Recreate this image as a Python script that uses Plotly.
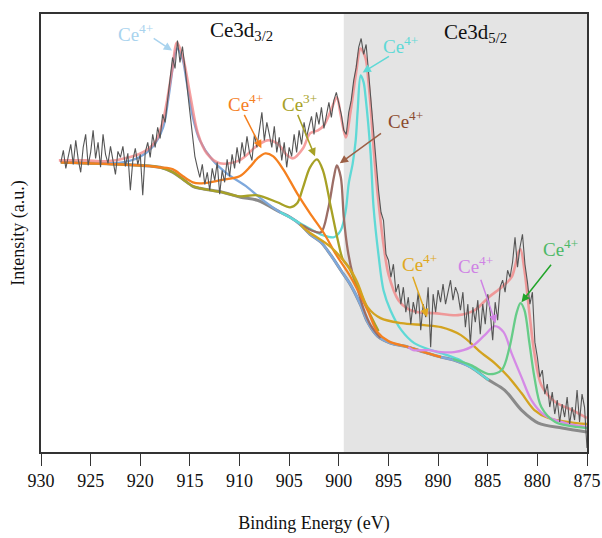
import plotly.graph_objects as go

# ---------------- data (binding energy in eV, intensity in a.u.) ----------------
raw_start = 928.0
raw_step = 0.25
raw_counts = [
    290, 302, 284, 296,   # 928
    308, 288, 312, 293,   # 927
    280, 305, 318, 287,   # 926
    300, 322, 294, 310,   # 925
    285, 318, 298, 289,   # 924
    306, 292, 278, 301,   # 923
    295, 306, 286, 299,   # 922
    262, 292, 304, 288,   # 921
    298, 257, 300, 310,   # 920
    295, 318, 305, 325,   # 919
    314, 338, 330, 352,   # 918
    372, 395, 384, 412,   # 917
    390, 406, 385, 360,   # 916
    340, 318, 296, 285,   # 915
    275, 288, 268, 280,   # 914
    262, 284, 272, 290,   # 913
    258, 282, 270, 293,   # 912
    276, 298, 284, 305,   # 911
    289, 310, 296, 316,   # 910
    300, 292, 318, 305,   # 909
    322, 340, 312, 330,   # 908
    318, 305, 326, 300,   # 907
    315, 292, 310, 285,   # 906
    305, 296, 318, 300,   # 905
    322, 308, 330, 315,   # 904
    326, 336, 318, 340,   # 903
    328, 345, 324, 338,   # 902
    350, 335, 352, 360,   # 901
    348, 338, 322, 318,   # 900
    340, 352, 372, 385,   # 899
    405, 414, 398, 408,   # 898
    380, 350, 315, 290,   # 897
    262, 240, 232, 198,   # 896
    192, 175, 188, 160,   # 895
    168, 148, 165, 140,   # 894
    155, 128, 150, 138,   # 893
    160, 122, 148, 135,   # 892
    165, 105, 158, 140,   # 891
    162, 150, 168, 148,   # 890
    160, 172, 152, 165,   # 889
    158, 142, 160, 125,   # 888
    148, 108, 145, 130,   # 887
    152, 118, 148, 128,   # 886
    158, 140, 112, 150,   # 885
    132, 165, 172, 160,   # 884
    182, 175, 190, 215,   # 883
    185, 205, 218, 188,   # 882
    170, 148, 160, 110,   # 881
    95, 75, 82, 58,       # 880
    68, 45, 60, 38,       # 879
    52, 30, 48, 35,       # 878
    55, 28, 45, 32,       # 877
    62, 30, 58, 45,       # 876
    4,                    # 875
]

bg_e = [928.0, 920.1, 918.0, 916.7, 915.7, 914.7, 914.0, 911.7, 909.9, 908.2, 905.9,
        904.9, 903.9, 902.9, 901.8, 900.8, 899.8, 898.8, 897.8, 897.1, 896.1, 894.8,
        893.0, 891.4, 889.7, 888.4, 886.7, 884.9, 883.3, 881.6, 879.9, 877.5, 875.0]
bg_i = [290, 287, 285, 280, 273, 266, 264, 260, 255, 252, 240,
        235, 228, 218, 210, 197, 182, 167, 147, 130, 116, 109,
        105, 100, 95, 92, 85, 72, 62, 42, 29, 24, 20]

env_e = [928.2, 925.5, 923.4, 921.1, 919.4, 918.4, 917.7, 917.3, 916.8, 916.3, 915.7,
         915.0, 914.2, 913.3, 912.0, 910.0, 908.2, 907.2, 906.2, 905.2, 904.6, 903.6,
         902.9, 902.1, 901.5, 900.8, 900.2, 899.8, 899.3, 898.8, 898.3, 897.8, 897.3,
         897.0, 896.75, 896.5, 896.25, 896.0, 895.5, 895.0, 894.0, 893.0, 892.0, 890.4,
         888.0, 886.3, 884.9, 883.6, 882.6, 881.9, 881.7, 881.3, 880.8, 880.3, 879.6,
         878.2, 876.5, 875.0]
env_i = [292, 292, 291, 295, 302, 312, 332, 352, 382, 410, 395,
         359, 319, 299, 289, 292, 307, 312, 309, 297, 294, 304,
         319, 322, 327, 342, 355, 337, 315, 342, 377, 404, 394,
         369, 340, 305, 275, 250, 208, 178, 152, 143, 140, 139,
         137, 142, 155, 165, 175, 200, 203, 182, 139, 99, 67,
         50, 42, 34]

# Ce4+ (Ce3d3/2, ~916.3 eV)
p916_e = [921.8, 920.1, 918.8, 917.7, 917.2, 916.8, 916.6, 916.3, 916.0, 915.7, 915.3,
          914.7, 914.0, 912.7, 911.3, 909.2, 908.0]
p916_i = [290, 295, 305, 325, 352, 380, 394, 404, 400, 392, 369,
          335, 312, 292, 279, 265, 255]
# Ce4+ (~907.4 eV)
p907_e = [916.7, 915.7, 914.7, 914.0, 913.0, 912.0, 910.0, 908.9, 908.2, 907.4, 906.6,
          905.6, 904.2, 902.9, 901.5, 900.3, 898.8, 897.1, 896.1, 895.0]
p907_i = [283, 276, 270, 269, 270, 272, 276, 286, 294, 299, 296,
          283, 259, 239, 219, 198, 175, 142, 120, 111]
# Ce3+ (~902.2 eV)
p902_e = [910.0, 908.2, 906.2, 904.9, 904.2, 903.6, 902.9, 902.2, 901.6, 900.8, 900.1,
          899.6, 899.0, 898.1, 897.1, 896.0]
p902_i = [256, 257, 250, 245, 249, 265, 285, 293, 282, 245, 212,
          193, 185, 166, 143, 121]
# Ce4+ (~900.2 eV)
p900_e = [903.5, 902.8, 901.8, 901.1, 900.5, 900.2, 899.8, 899.5, 899.1, 898.6, 898.1,
          897.5, 896.8, 895.8]
p900_i = [226, 222, 220, 242, 275, 287, 275, 235, 202, 178, 163,
          143, 127, 114]
# Ce4+ (Ce3d5/2, ~897.8 eV)
p898_e = [905.5, 903.0, 901.6, 900.5, 899.8, 899.3, 899.0, 898.6, 898.3, 898.1, 897.8,
          897.5, 897.3, 896.8, 896.5, 896.0, 895.5, 894.8, 893.7, 892.4, 890.7, 889.7, 888.0]
p898_i = [238, 224, 217, 215, 222, 242, 269, 289, 312, 342, 377,
          370, 355, 299, 245, 197, 162, 142, 122, 109, 102, 99, 93]
# Ce4+ (broad, ~891 eV)
p891_e = [903.5, 903.0, 900.8, 898.8, 898.1, 897.1, 895.8, 893.7, 891.4, 889.7, 887.7,
          885.6, 884.3, 882.9, 881.6, 880.3, 878.9, 876.8, 875.0]
p891_i = [224, 220, 205, 182, 169, 145, 134, 129, 127, 125, 117,
          99, 89, 75, 59, 42, 34, 30, 28]
# Ce4+ (~884.3 eV)
p884_e = [892.5, 891.0, 889.7, 888.4, 886.7, 885.3, 884.3, 883.4, 882.6, 881.6, 880.6,
          879.3, 877.2, 875.0]
p884_i = [102, 102, 100, 100, 105, 117, 126, 120, 99, 75, 52,
          37, 29, 25]
# Ce4+ (~881.7 eV)
p882_e = [888.5, 886.7, 884.9, 883.6, 882.8, 882.1, 881.7, 881.3, 880.8, 880.3, 879.6,
          878.2, 875.0]
p882_i = [93, 87, 78, 82, 105, 139, 149, 142, 109, 75, 45,
          30, 24]

x_ticks = [930, 925, 920, 915, 910, 905, 900, 895, 890, 885, 880, 875]


def with_bg(e, v, hi, lo):
    """Extend a component curve along the background outside its window."""
    pts = [(be, bv) for be, bv in zip(bg_e, bg_i) if hi >= be > max(e) + 0.2]
    pts += list(zip(e, v))
    pts += [(be, bv) for be, bv in zip(bg_e, bg_i) if lo <= be < min(e) - 0.2]
    return [p[0] for p in pts], [p[1] for p in pts]


raw_e = [raw_start - raw_step * k for k in range(len(raw_counts))]

fig = go.Figure()


def add_line(x, y, color, width, shape="spline"):
    fig.add_trace(go.Scatter(
        x=x, y=y, mode="lines",
        line=dict(color=color, width=width, shape=shape, smoothing=0.9 if shape == "spline" else None),
        hoverinfo="skip", showlegend=False))


add_line(bg_e, bg_i, "#8a8a8a", 3)
components = [
    (p916_e, p916_i, 928.5, 886.0, "#7ea8dc"),
    (p898_e, p898_i, 906.0, 884.0, "#5fd9d6"),
    (p900_e, p900_i, 904.0, 895.0, "#9c6e66"),
    (p902_e, p902_i, 928.5, 895.0, "#a7a126"),
    (p907_e, p907_i, 928.5, 889.0, "#f5801f"),
    (p891_e, p891_i, 904.0, 874.0, "#d3a320"),
    (p884_e, p884_i, 893.0, 874.0, "#d58ae6"),
    (p882_e, p882_i, 889.0, 874.0, "#66cc88"),
]
for e, v, hi, lo, col in components:
    xe, yv = with_bg(e, v, hi, lo)
    add_line(xe, yv, col, 2.3)

add_line(env_e, env_i, "rgba(243,128,128,0.75)", 2.6)
add_line(raw_e, raw_counts, "#555555", 1.1, shape="linear")

# shaded Ce3d5/2 region
fig.add_shape(type="rect", xref="x", yref="paper", x0=899.5, x1=875, y0=0, y1=1,
              fillcolor="#e4e4e4", line=dict(width=0), layer="below")

FONT = "Liberation Serif"


def label(x, y, text, color, size=19):
    fig.add_annotation(x=x, y=y, text=text, showarrow=False,
                       font=dict(family=FONT, size=size, color=color))


def arrow(x0, y0, x1, y1, color):
    fig.add_annotation(x=x1, y=y1, ax=x0, ay=y0, xref="x", yref="y", axref="x", ayref="y",
                       text="", showarrow=True, arrowhead=2, arrowsize=1.1, arrowwidth=1.5,
                       arrowcolor=color, standoff=0, startstandoff=0)


label(909.8, 421, "Ce3d<sub>3/2</sub>", "#111111", 21)
label(886.25, 419, "Ce3d<sub>5/2</sub>", "#111111", 21)

label(920.5, 419, "Ce<sup>4+</sup>", "#a9d3ee")
arrow(918.8, 415, 916.8, 402, "#a9d3ee")

label(893.8, 407, "Ce<sup>4+</sup>", "#5fd9d6")
arrow(894.8, 397, 897.6, 380, "#5fd9d6")

label(909.4, 349, "Ce<sup>4+</sup>", "#f5801f")
arrow(909.6, 339, 907.8, 304, "#f5801f")

label(904.0, 349, "Ce<sup>3+</sup>", "#a7a126")
arrow(904.2, 339, 902.4, 296, "#a7a126")

label(893.3, 332, "Ce<sup>4+</sup>", "#8b4a2e")
arrow(895.6, 320, 899.9, 289, "#9c6046")

label(891.9, 189, "Ce<sup>4+</sup>", "#e0a820")
arrow(892.6, 177, 891.1, 135, "#e0a820")

label(886.25, 187, "Ce<sup>4+</sup>", "#cf82e4")
arrow(885.75, 174, 884.2, 129, "#cf82e4")

label(877.7, 204, "Ce<sup>4+</sup>", "#4db866")
arrow(878.5, 189, 881.6, 150, "#22a52a")

fig.update_xaxes(range=[930, 875], tickvals=x_ticks, ticks="outside", ticklen=12,
                 tickwidth=1.2, tickcolor="#333333", showline=True, linecolor="#333333",
                 linewidth=1.5, mirror=True, showgrid=False, zeroline=False,
                 automargin=False,
                 tickfont=dict(family=FONT, size=18, color="#111111"),
                 title=dict(text="Binding Energy (eV)", standoff=26,
                            font=dict(family=FONT, size=18, color="#111111")))
fig.update_yaxes(range=[0, 438.5], showticklabels=False, ticks="", showline=True,
                 linecolor="#333333", linewidth=1.5, mirror=True, showgrid=False,
                 zeroline=False, automargin=False,
                 title=dict(text="Intensity (a.u.)", standoff=10,
                            font=dict(family=FONT, size=18, color="#111111")))
fig.update_layout(width=602, height=538, plot_bgcolor="white", paper_bgcolor="white",
                  margin=dict(l=41, r=15, t=14, b=86), showlegend=False)

# remove the default page margin so the figure fills the window exactly
fig.write_html("out.html",
               config={"displayModeBar": False},
               post_script="document.body.style.margin='0';"
                           "document.documentElement.style.overflow='hidden';")
